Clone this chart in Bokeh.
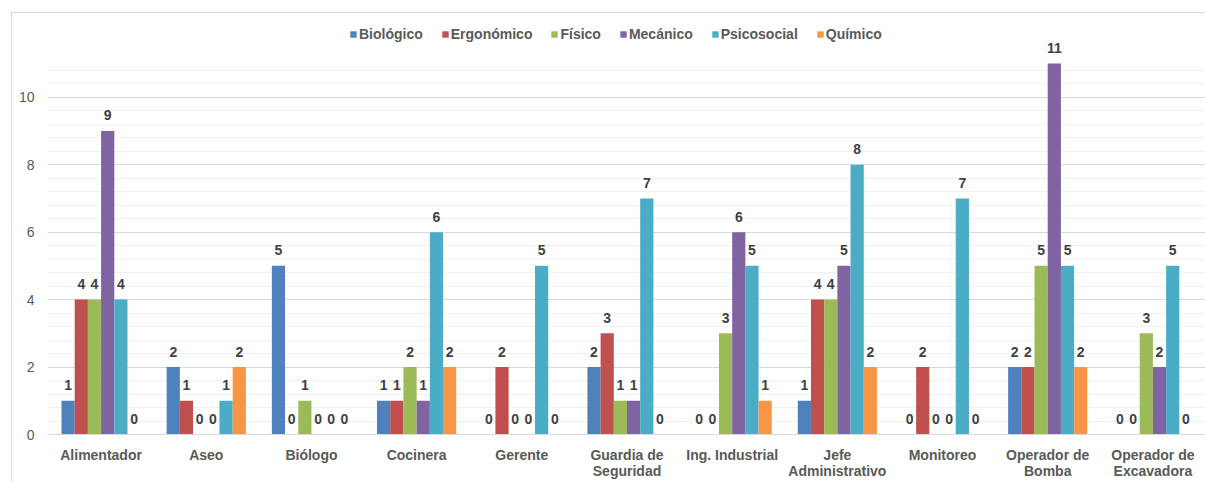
from bokeh.plotting import figure
from bokeh.models import (ColumnDataSource, FactorRange, FixedTicker, Legend, LegendItem)
from bokeh.transform import dodge
from bokeh.core.properties import value
from bokeh.embed import file_html
from bokeh.resources import INLINE

categories = ["Alimentador", "Aseo", "Biólogo", "Cocinera", "Gerente",
              "Guardia de\nSeguridad", "Ing. Industrial", "Jefe\nAdministrativo",
              "Monitoreo", "Operador de\nBomba", "Operador de\nExcavadora"]
series = ["Biológico", "Ergonómico", "Físico", "Mecánico", "Psicosocial", "Químico"]
colors = ["#4F81BD", "#C0504D", "#9BBB59", "#8064A2", "#4BACC6", "#F79646"]

biologico   = [1, 2, 5, 1, 0, 2, 0, 1, 0, 2, 0]
ergonomico  = [4, 1, 0, 1, 2, 3, 0, 4, 2, 2, 0]
fisico      = [4, 0, 1, 2, 0, 1, 3, 4, 0, 5, 3]
mecanico    = [9, 0, 0, 1, 0, 1, 6, 5, 0, 11, 2]
psicosocial = [4, 1, 0, 6, 5, 7, 5, 8, 7, 5, 5]
quimico     = [0, 2, 0, 2, 0, 0, 1, 2, 0, 2, 0]
values = [biologico, ergonomico, fisico, mecanico, psicosocial, quimico]

FONT = "Liberation Sans"
FS = "14px"

p = figure(x_range=FactorRange(*categories, range_padding=0), y_range=(0, 12.275),
           width=1194, height=469, output_backend="svg", toolbar_location=None,
           min_border_left=36, min_border_right=1, min_border_top=7, min_border_bottom=45,
           styles={"margin-left": "11px", "margin-top": "12px",
                   "border-left": "1px solid #d9d9d9", "border-top": "1px solid #d9d9d9"})
p.outline_line_color = None
p.background_fill_color = "white"
p.border_fill_color = "white"

src = {"cat": categories}
for s, v in zip(series, values):
    src[s] = v
source = ColumnDataSource(src)

bw = 0.1255
items = []
for i, (s, c) in enumerate(zip(series, colors)):
    off = (i - 2.5) * bw
    r = p.vbar(x=dodge("cat", off, range=p.x_range), top=s, width=bw, source=source,
               fill_color=c, line_color=None)
    items.append(LegendItem(label=s, renderers=[r]))
    lab = {"cat": categories, "y": values[i], "t": [str(v) for v in values[i]]}
    p.text(x=dodge("cat", off, range=p.x_range), y="y", text="t", source=ColumnDataSource(lab),
           text_align="center", text_baseline="middle", y_offset=-15.5,
           text_font=value(FONT), text_font_style="bold", text_font_size=FS,
           text_color="#404040")

legend = Legend(items=items, orientation="horizontal", location=(301, 392),
                glyph_width=8, glyph_height=8, label_standoff=2, spacing=18,
                padding=0, margin=0, border_line_color=None, background_fill_alpha=0,
                label_text_font=FONT, label_text_font_style="bold",
                label_text_font_size=FS, label_text_color="#595959")
p.add_layout(legend)

p.yaxis.ticker = FixedTicker(ticks=[0, 2, 4, 6, 8, 10],
                             minor_ticks=[round(0.4 * k, 1) for k in range(1, 28)])
p.ygrid.grid_line_color = "#d9d9d9"
p.ygrid.minor_grid_line_color = "#f0f0f0"
p.xgrid.grid_line_color = None
p.yaxis.axis_line_color = None
p.yaxis.major_tick_line_color = None
p.yaxis.minor_tick_line_color = None
p.yaxis.major_tick_out = 0
p.yaxis.major_tick_in = 0
p.yaxis.minor_tick_out = 0
p.yaxis.major_label_text_font = FONT
p.yaxis.major_label_text_font_size = FS
p.yaxis.major_label_text_color = "#595959"
p.yaxis.major_label_standoff = 14

p.xaxis.axis_line_color = "#d9d9d9"
p.xaxis.major_tick_line_color = None
p.xaxis.minor_tick_line_color = None
p.xaxis.major_tick_out = 0
p.xaxis.major_tick_in = 0
p.xaxis.minor_tick_out = 0
p.xaxis.major_label_text_font = FONT
p.xaxis.major_label_text_font_style = "bold"
p.xaxis.major_label_text_font_size = FS
p.xaxis.major_label_text_color = "#595959"
p.xaxis.major_label_standoff = 12
p.xaxis.major_label_text_line_height = 1.05

open("out.html", "w").write(file_html(p, INLINE))
